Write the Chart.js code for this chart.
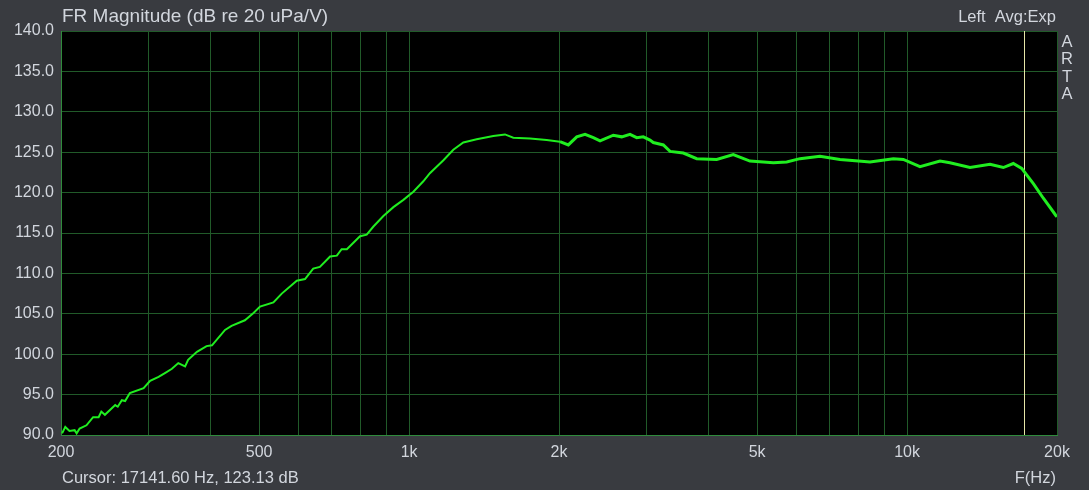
<!DOCTYPE html>
<html>
<head>
<meta charset="utf-8">
<script src="https://cdn.jsdelivr.net/npm/chart.js@4"></script>
<style>
    body { margin: 0; background: #393b40; }
    #wrap { width: 1089px; height: 490px; }
</style>
</head>
<body>
<div id="wrap"><canvas id="fr" width="1089" height="490"></canvas></div>
<script>
// frequency points (Hz) and magnitude (dB)
const freqs = [201, 204, 208, 213, 215, 218, 225, 232, 238, 241, 245, 257, 260, 265, 269, 275,
    293, 302, 314, 324, 334, 344, 355, 360, 375, 392, 402, 427, 440, 468, 487, 502, 534, 555,
    595, 618, 642, 662, 694, 716, 732, 750, 797, 822, 848, 888, 930, 974, 1020, 1068, 1101,
    1172, 1227, 1285, 1367, 1476, 1558, 1619, 1749, 1889, 2009, 2088, 2171, 2256, 2344, 2418,
    2571, 2673, 2777, 2865, 2953, 3046, 3093, 3240, 3342, 3554, 3781, 4147, 4477, 4836, 5388,
    5731, 6094, 6685, 7333, 7981, 8424, 9385, 9829, 10614, 11643, 12194, 13377, 14674, 15604,
    16342, 16989, 17927, 18775, 19880, 20000];
const magnitude = [90.2, 91.0, 90.5, 90.6, 90.2, 90.8, 91.2, 92.2, 92.2, 92.9, 92.5, 93.7, 93.5,
    94.3, 94.2, 95.2, 95.8, 96.7, 97.2, 97.7, 98.2, 98.9, 98.5, 99.3, 100.3, 101.0, 101.1, 103.0,
    103.5, 104.2, 105.1, 105.9, 106.4, 107.5, 109.1, 109.3, 110.6, 110.8, 112.1, 112.2, 113.0,
    113.0, 114.6, 114.8, 115.8, 117.1, 118.2, 119.1, 120.1, 121.4, 122.4, 124.0, 125.3, 126.2,
    126.6, 127.0, 127.2, 126.8, 126.7, 126.5, 126.3, 125.9, 126.9, 127.2, 126.8, 126.4, 127.1,
    126.9, 127.2, 126.8, 126.9, 126.5, 126.2, 125.9, 125.1, 124.9, 124.2, 124.1, 124.7, 123.9,
    123.7, 123.8, 124.2, 124.5, 124.1, 123.9, 123.8, 124.2, 124.1, 123.2, 123.9, 123.7, 123.1,
    123.5, 123.1, 123.6, 123.0, 121.1, 119.3, 117.2, 117.0];

const gridFreqs = [200, 300, 400, 500, 600, 700, 800, 900, 1000, 2000, 3000, 4000, 5000,
    6000, 7000, 8000, 9000, 10000, 20000];
const freqLabels = { 200: '200', 500: '500', 1000: '1k', 2000: '2k', 5000: '5k', 10000: '10k', 20000: '20k' };

const cursorFreq = 17141.60;
const cursorDb = 123.13;

const textColor = '#d2d6dd';
const fontFamily = '"Liberation Sans", Arial, sans-serif';

const artaPlugin = {
    id: 'arta',
    beforeDraw(chart) {
        const { ctx, chartArea } = chart;
        ctx.save();
        ctx.fillStyle = '#393b40';
        ctx.fillRect(0, 0, chart.width, chart.height);
        ctx.fillStyle = '#000000';
        ctx.fillRect(chartArea.left, chartArea.top, chartArea.right - chartArea.left, chartArea.bottom - chartArea.top);
        ctx.restore();
    },
    beforeDatasetsDraw(chart) {
        // cursor line
        const { ctx, chartArea } = chart;
        const x = Math.round(chart.scales.x.getPixelForValue(cursorFreq)) + 0.5;
        ctx.save();
        ctx.strokeStyle = '#e6e6a8';
        ctx.lineWidth = 1;
        ctx.beginPath();
        ctx.moveTo(x, chartArea.top);
        ctx.lineTo(x, chartArea.bottom);
        ctx.stroke();
        ctx.restore();
    },
    afterDraw(chart) {
        const { ctx, chartArea } = chart;
        ctx.save();
        ctx.fillStyle = textColor;
        ctx.textBaseline = 'middle';
        ctx.textAlign = 'left';
        ctx.font = '19px ' + fontFamily;
        ctx.fillText('FR Magnitude (dB re 20 uPa/V)', 62, 17);
        ctx.font = '16.5px ' + fontFamily;
        ctx.fillText('Cursor: ' + cursorFreq.toFixed(2) + ' Hz, ' + cursorDb.toFixed(2) + ' dB', 62, 478);
        ctx.textAlign = 'right';
        ctx.fillText('Left  Avg:Exp', chartArea.right - 1, 17);
        ctx.fillText('F(Hz)', chartArea.right - 1, 478);
        ctx.textAlign = 'center';
        'ARTA'.split('').forEach((ch, i) => ctx.fillText(ch, 1067, 42 + i * 17.5));
        ctx.restore();
    }
};

new Chart(document.getElementById('fr'), {
    type: 'line',
    data: {
        datasets: [{
            data: freqs.map((f, i) => ({ x: f, y: magnitude[i] })),
            borderColor: '#20ee20',
            borderWidth: 2,
            pointRadius: 0,
            tension: 0,
            segment: {
                borderWidth: c => (c.p0.parsed.x > 2000 ? 3 : 2)
            }
        }]
    },
    options: {
        responsive: false,
        animation: false,
        layout: { padding: { top: 31, right: 32, left: 0, bottom: 0 } },
        plugins: { legend: { display: false }, tooltip: { enabled: false } },
        scales: {
            x: {
                type: 'logarithmic',
                min: 200,
                max: 20000,
                afterBuildTicks: (scale) => {
                    scale.ticks = gridFreqs.map(v => ({ value: v }));
                },
                afterFit: (scale) => { scale.height = 55; },
                grid: { color: '#215a29', drawTicks: false },
                border: { color: '#2f8b3c' },
                ticks: {
                    color: textColor,
                    font: { family: fontFamily, size: 16 },
                    padding: 8,
                    maxRotation: 0,
                    autoSkip: false,
                    callback: (v) => freqLabels[v] || ''
                }
            },
            y: {
                min: 90,
                max: 140,
                afterFit: (scale) => { scale.width = 61; },
                grid: { color: '#215a29', drawTicks: false },
                border: { color: '#2f8b3c' },
                ticks: {
                    stepSize: 5,
                    color: textColor,
                    font: { family: fontFamily, size: 16 },
                    padding: 7,
                    callback: (v) => v.toFixed(1)
                }
            }
        }
    },
    plugins: [artaPlugin]
});
</script>
</body>
</html>
